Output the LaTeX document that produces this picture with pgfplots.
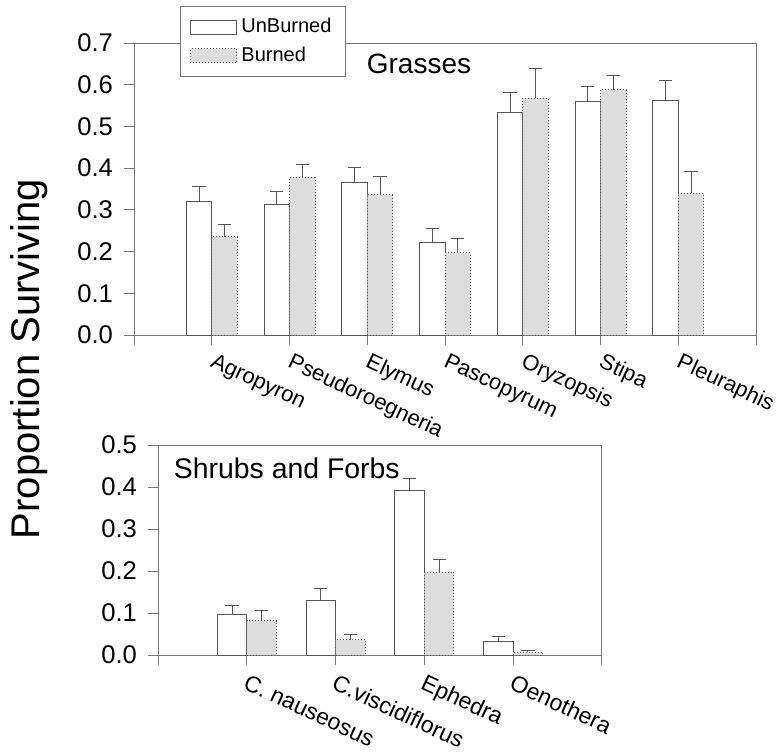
\documentclass[border=0pt]{standalone}
\usepackage{fontspec}
\setmainfont{Liberation Sans}
\usepackage{pgfplots}
\usepackage{pgfplotstable}
\pgfplotsset{compat=1.18}
\definecolor{burn}{HTML}{DDDDDD}
\definecolor{edge}{HTML}{555555}
\definecolor{axc}{HTML}{777777}

\pgfplotstableread{
x u ue b be
1 0.319 0.036 0.235 0.029
2 0.312 0.031 0.378 0.030
3 0.365 0.036 0.336 0.043
4 0.221 0.034 0.197 0.035
5 0.533 0.048 0.568 0.070
6 0.559 0.036 0.588 0.033
7 0.563 0.046 0.340 0.053
}\grasses

\pgfplotstableread{
x u ue b be
1 0.097 0.020 0.082 0.023
2 0.130 0.029 0.036 0.012
3 0.391 0.029 0.197 0.031
4 0.033 0.012 0.006 0.004
}\shrubs

\pgfplotsset{
  common/.style={
    scale only axis,
    axis line style={axc, line width=0.5pt},
    tick style={axc, line width=0.5pt},
    tick align=outside,
    major tick length=5pt,
    xtick pos=bottom, ytick pos=left,
    ybar,
    ymin=0,
    /pgf/number format/assume math mode=true,
    yticklabel style={/pgf/number format/fixed, /pgf/number format/fixed zerofill, /pgf/number format/precision=1, font=\fontsize{12.8}{15}\selectfont, xshift=-2pt},
    error bars/y dir=plus,
    error bars/y explicit,
    error bars/error bar style={edge, line width=0.5pt, solid},
    error bars/error mark options={solid, rotate=90, mark size=3.3pt, edge, line width=0.5pt},
    legend image code/.code={\draw[##1] (0pt,-3.5pt) rectangle (23pt,3.5pt);},
  },
  ubar/.style={fill=white, draw=edge, line width=0.5pt},
  bbar/.style={fill=burn, draw=edge, line width=0.5pt, densely dotted},
}

\begin{document}
\begin{tikzpicture}
\path[use as bounding box] (0,0) rectangle (390pt,376pt);

% Top: grasses
\begin{axis}[common,
  at={(67pt,208.5pt)}, anchor=south west,
  width=311pt, height=146pt,
  xmin=0, xmax=8, ymax=0.7,
  xtick={0,1,2,3,4,5,6,7,8},
  xticklabels={,Agropyron,Pseudoroegneria,Elymus,Pascopyrum,Oryzopsis,Stipa,Pleuraphis,},
  xticklabel style={xshift=2pt, yshift=-3.5pt, rotate=-25, anchor=north west, inner sep=0pt, font=\fontsize{11}{13}\selectfont},
  ytick={0,0.1,...,0.71},
  bar width=0.328,
  legend style={at={(rel axis cs:0.074,1.127)}, anchor=north west, draw=axc, fill=white,
    font=\fontsize{10}{12}\selectfont, row sep=1.5pt, inner xsep=5pt, inner ysep=4pt,
    legend cell align=left, /tikz/every even column/.append style={column sep=7pt}},
]
\addplot[ubar, bar shift=-0.164] table[x=x, y=u, y error=ue] {\grasses};
\addlegendentry{UnBurned}
\addplot[bbar, bar shift=0.164] table[x=x, y=b, y error=be] {\grasses};
\addlegendentry{Burned}
\node[anchor=west, font=\fontsize{14}{16}\selectfont] at (rel axis cs:0.363,0.927) {Grasses};
\end{axis}

% Bottom: shrubs and forbs
\begin{axis}[common,
  at={(79pt,48.5pt)}, anchor=south west,
  width=222pt, height=105pt,
  xmin=0, xmax=5, ymax=0.5,
  xtick={0,1,2,3,4,5},
  xticklabels={,C. nauseosus,C.viscidiflorus,Ephedra,Oenothera,},
  xticklabel style={xshift=1pt, yshift=-4pt, rotate=-25, anchor=north west, inner sep=0pt, font=\fontsize{11.5}{13}\selectfont},
  ytick={0,0.1,...,0.51},
  bar width=0.332,
]
\addplot[ubar, bar shift=-0.166] table[x=x, y=u, y error=ue] {\shrubs};
\addplot[bbar, bar shift=0.166] table[x=x, y=b, y error=be] {\shrubs};
\node[anchor=west, font=\fontsize{14.2}{16}\selectfont] at (rel axis cs:0.02,0.89) {Shrubs and Forbs};
\end{axis}

\node[rotate=90, anchor=base, font=\fontsize{20}{24}\selectfont] at (20pt,196.5pt) {Proportion Surviving};
\end{tikzpicture}
\end{document}
